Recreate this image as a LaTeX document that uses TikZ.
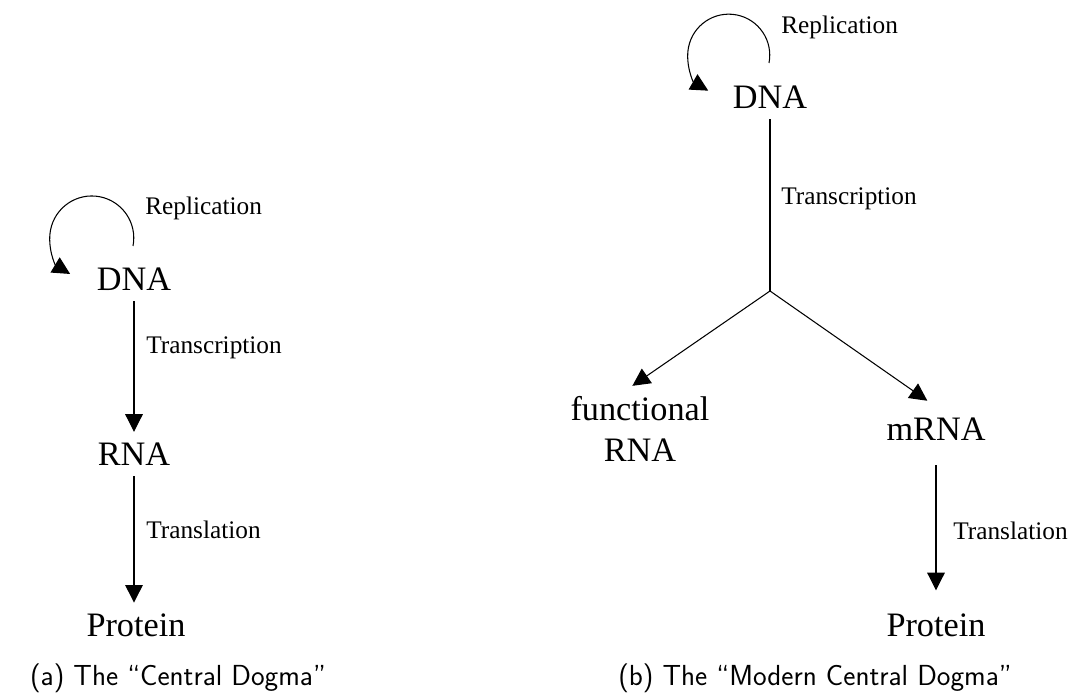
\documentclass[tikz,border=0pt]{standalone}
\usepackage{fontspec}
\setmainfont{Liberation Serif}
\usetikzlibrary{arrows.meta,positioning}
\tikzset{
  mol/.style={inner sep=6pt,align=center,font=\fontsize{19.5}{23}\selectfont},
  proc/.style={inner sep=0pt,anchor=west,font=\fontsize{14.4}{16}\selectfont},
  capt/.style={inner sep=0pt,font=\sffamily\fontsize{16.5}{19}\selectfont\addfontfeature{LetterSpace=5}},
  arr/.style={-{Triangle[length=10pt,width=10pt]},line width=0.6pt},
  link/.style={line width=0.6pt}
}
\begin{document}
\begin{tikzpicture}[x=0.02cm,y=0.02cm]
  \useasboundingbox (0,0) rectangle (1073,695);

  % (a) central dogma
  \node[mol] (dnaA) at (134,416) {DNA};
  \node[mol] (rnaA) at (134,241) {RNA};
  \node[mol] (protA) at (136,70) {Protein};
  \coordinate (repA) at (133,449);
  \draw[arr] (repA) arc[start angle=-11,end angle=239,radius=42];
  \node[proc] (repAl) at (145,487) {Replication};
  \draw[arr] (dnaA.south) -- (rnaA.north);
  \node[proc] (trA) at (146,347) {Transcription};
  \draw[arr] (rnaA.south) -- (rnaA.south |- protA.north);
  \node[proc] (tlA) at (146,165) {Translation};
  \node[capt] (capA) at (178,17) {(a) The “Central Dogma”};

  % (b) modern central dogma
  \node[mol] (dnaB) at (770,598) {DNA};
  \node[mol] (func) at (640,266) {functional\\RNA};
  \node[mol] (mrna) at (936,266) {mRNA};
  \node[mol] (protB) at (936,70) {Protein};
  \coordinate (repB) at (769,632);
  \draw[arr] (repB) arc[start angle=-11,end angle=240,radius=41];
  \node[proc] (repBl) at (781,668) {Replication};
  \coordinate (split) at (770,404);
  \draw[link] (dnaB.south) -- (split);
  \node[proc] (trB) at (781,496) {Transcription};
  \draw[arr] (split) -- (func.100);
  \draw[arr,shorten >=6pt] (split) -- (mrna.north);
  \draw[arr,shorten <=8pt,shorten >=7pt] (mrna.south) -- (protB.north);
  \node[proc] (tlB) at (953,164) {Translation};
  \node[capt] (capB) at (815,17) {(b) The “Modern Central Dogma”};
\end{tikzpicture}
\end{document}
